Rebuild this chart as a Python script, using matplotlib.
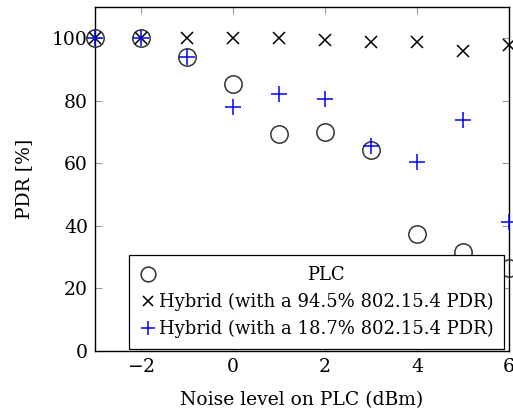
import matplotlib
matplotlib.use("agg")
import matplotlib.pyplot as plt

noise = [-3, -2, -1, 0, 1, 2, 3, 4, 5, 6]
plc = [100, 100, 94, 85.4, 69.4, 69.9, 64.4, 37.3, 31.8, 26.5]
hybrid_high = [100, 100, 100, 100, 100, 99.3, 98.9, 98.9, 96, 97.7]
hybrid_low = [100, 100, 94, 78, 82.2, 80.5, 65.6, 60.5, 73.8, 41.2]

labels = ["PLC",
          "Hybrid (with a 94.5% 802.15.4 PDR)",
          "Hybrid (with a 18.7% 802.15.4 PDR)"]
xticks = [-2, 0, 2, 4, 6]
yticks = [0, 20, 40, 60, 80, 100]

plt.rcParams["font.family"] = ["DejaVu Serif"]
plt.rcParams["mathtext.fontset"] = "dejavuserif"

fig = plt.figure(figsize=(5.13, 4.19), dpi=100)
ax = fig.add_axes([95 / 513, 68 / 419, 414 / 513, 344 / 419])

ax.plot(noise, plc, linestyle="none", marker="o", markersize=12.5,
        markerfacecolor="none", markeredgecolor="#333333",
        markeredgewidth=1.1, label=labels[0], clip_on=False, zorder=3)
ax.plot(noise, hybrid_high, linestyle="none", marker="x", markersize=9,
        color="black", markeredgewidth=1.1, label=labels[1],
        clip_on=False, zorder=3)
ax.plot(noise, hybrid_low, linestyle="none", marker="+", markersize=12,
        color="blue", markeredgewidth=1.1, label=labels[2],
        clip_on=False, zorder=3)

ax.set_xlim(-3, 6)
ax.set_ylim(0, 110)
ax.set_xticks(xticks)
ax.set_xticklabels(["$-2$" if t < 0 else str(t) for t in xticks])
ax.set_yticks(yticks)
ax.tick_params(direction="in", length=5, width=0.8, color="#999999",
               top=True, right=True, labelsize=13.5, pad=5)
for spine in ax.spines.values():
    spine.set_linewidth(1.0)

ax.set_xlabel("Noise level on PLC (dBm)", fontsize=13.5, labelpad=11)
ax.set_ylabel("PDR [%]", fontsize=13.5, labelpad=14)

leg = ax.legend(loc="lower right", bbox_to_anchor=(0.988, 0.006),
                borderaxespad=0, fancybox=False, framealpha=1,
                edgecolor="black", fontsize=13, handlelength=0.9,
                handletextpad=0.15, borderpad=0.6, labelspacing=0.48,
                markerscale=0.85)
leg.get_frame().set_linewidth(0.9)

# centre the PLC label like pgfplots does
fig.canvas.draw()
renderer = fig.canvas.get_renderer()
texts = leg.get_texts()
widths = [t.get_window_extent(renderer).width for t in texts]
shift = (max(widths) - widths[0]) / 2
texts[0].set_position((shift, 0))

fig.savefig("out.png", dpi=100)
